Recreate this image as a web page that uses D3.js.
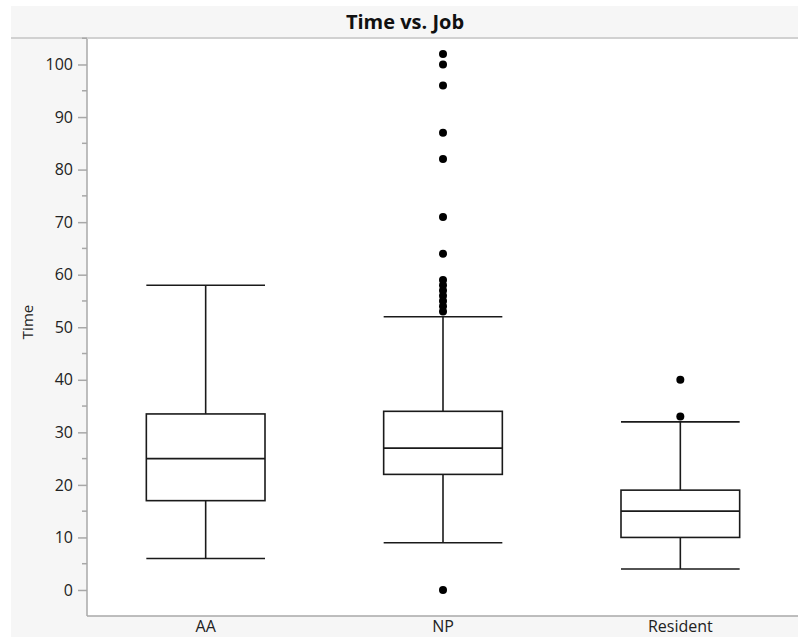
<!DOCTYPE html>
<html>
<head>
  <script src="https://d3js.org/d3.v7.min.js"></script>
  <style>
    body { margin: 0; background: #fff; }
    .axis text { font: 16px "Open Sans", sans-serif; fill: #222; }
    .axis path, .axis line { fill: none; stroke: #a8a8a8; stroke-width: 1.5px; }
    .box rect, .box line { fill: none; stroke: #1a1a1a; stroke-width: 1.6px; }
  </style>
</head>
<body>
  <svg class="chart"></svg>
  <script>
    // box stats per job
    var jobs = ['AA', 'NP', 'Resident'];
    var whiskerLow = [6, 9, 4];
    var q1 = [17, 22, 10];
    var median = [25, 27, 15];
    var q3 = [33.5, 34, 19];
    var whiskerHigh = [58, 52, 32];
    var outliersNP = [0, 53, 54, 55, 56, 57, 58, 59, 64, 71, 82, 87, 96, 100, 102];
    var outliersResident = [33, 40];
    var yTicks = [0, 10, 20, 30, 40, 50, 60, 70, 80, 90, 100];

    var W = 798, H = 637;
    var plot = { left: 87, top: 39, right: 799, bottom: 616 };

    var svg = d3.select('.chart').attr('width', W).attr('height', H);

    // grey panel + title band
    svg.append('rect').attr('x', 11).attr('y', 6).attr('width', W - 11).attr('height', H - 6)
      .attr('fill', '#f6f6f6');
    svg.append('line').attr('x1', 11).attr('x2', W).attr('y1', 38).attr('y2', 38)
      .attr('stroke', '#c4c4c4').attr('stroke-width', 1.5);
    svg.append('text').attr('x', 405).attr('y', 29).attr('text-anchor', 'middle')
      .style('font', 'bold 20px "Open Sans", sans-serif').style('fill', '#111')
      .text('Time vs. Job');

    svg.append('rect').attr('x', plot.left).attr('y', plot.top)
      .attr('width', plot.right - plot.left).attr('height', plot.bottom - plot.top)
      .attr('fill', '#fff');

    var x = d3.scaleBand().domain(jobs).range([plot.left, plot.right]).padding(0);
    var y = d3.scaleLinear().domain([-4.95, 104.85]).range([plot.bottom, plot.top]);

    var yAxis = svg.append('g').attr('class', 'y axis')
      .attr('transform', 'translate(' + plot.left + ',0)')
      .call(d3.axisLeft(y).tickValues(yTicks).tickSize(9).tickPadding(5).tickSizeOuter(0));
    // minor ticks at the fives
    yAxis.selectAll('.minor')
      .data(yTicks.map(function (d) { return d + 5; }))
      .enter().append('line')
      .attr('class', 'minor')
      .attr('x1', -5).attr('x2', 0)
      .attr('y1', function (d) { return y(d); })
      .attr('y2', function (d) { return y(d); });
    yAxis.select('.domain').attr('d', 'M0,' + plot.top + 'V' + plot.bottom);

    var xAxis = svg.append('g').attr('class', 'x axis')
      .attr('transform', 'translate(0,' + plot.bottom + ')')
      .call(d3.axisBottom(x).tickSize(0).tickPadding(5));
    xAxis.select('.domain').attr('d', 'M' + plot.left + ',0H' + plot.right);

    svg.append('text')
      .attr('transform', 'translate(33,' + y(51) + ') rotate(-90)')
      .attr('text-anchor', 'middle')
      .style('font', '15px "Open Sans", sans-serif').style('fill', '#222')
      .text('Time');

    var bw = x.bandwidth() * 0.5;
    var boxes = svg.selectAll('.box')
      .data(jobs.map(function (j, i) {
        return { job: j, lo: whiskerLow[i], q1: q1[i], med: median[i], q3: q3[i], hi: whiskerHigh[i] };
      }))
      .enter().append('g').attr('class', 'box')
      .attr('transform', function (d) { return 'translate(' + (x(d.job) + x.bandwidth() / 2) + ',0)'; });

    boxes.append('line').attr('x1', 0).attr('x2', 0)
      .attr('y1', function (d) { return y(d.hi); }).attr('y2', function (d) { return y(d.q3); });
    boxes.append('line').attr('x1', 0).attr('x2', 0)
      .attr('y1', function (d) { return y(d.q1); }).attr('y2', function (d) { return y(d.lo); });
    boxes.append('rect').attr('x', -bw / 2).attr('width', bw)
      .attr('y', function (d) { return y(d.q3); })
      .attr('height', function (d) { return y(d.q1) - y(d.q3); });
    ['lo', 'hi', 'med'].forEach(function (k) {
      boxes.append('line').attr('x1', -bw / 2).attr('x2', bw / 2)
        .attr('y1', function (d) { return y(d[k]); }).attr('y2', function (d) { return y(d[k]); });
    });

    var pts = outliersNP.map(function (v) { return { job: 'NP', v: v }; })
      .concat(outliersResident.map(function (v) { return { job: 'Resident', v: v }; }));
    svg.selectAll('.outlier').data(pts).enter().append('circle')
      .attr('class', 'outlier')
      .attr('cx', function (d) { return x(d.job) + x.bandwidth() / 2; })
      .attr('cy', function (d) { return y(d.v); })
      .attr('r', 4)
      .attr('fill', '#000');
  </script>
</body>
</html>
